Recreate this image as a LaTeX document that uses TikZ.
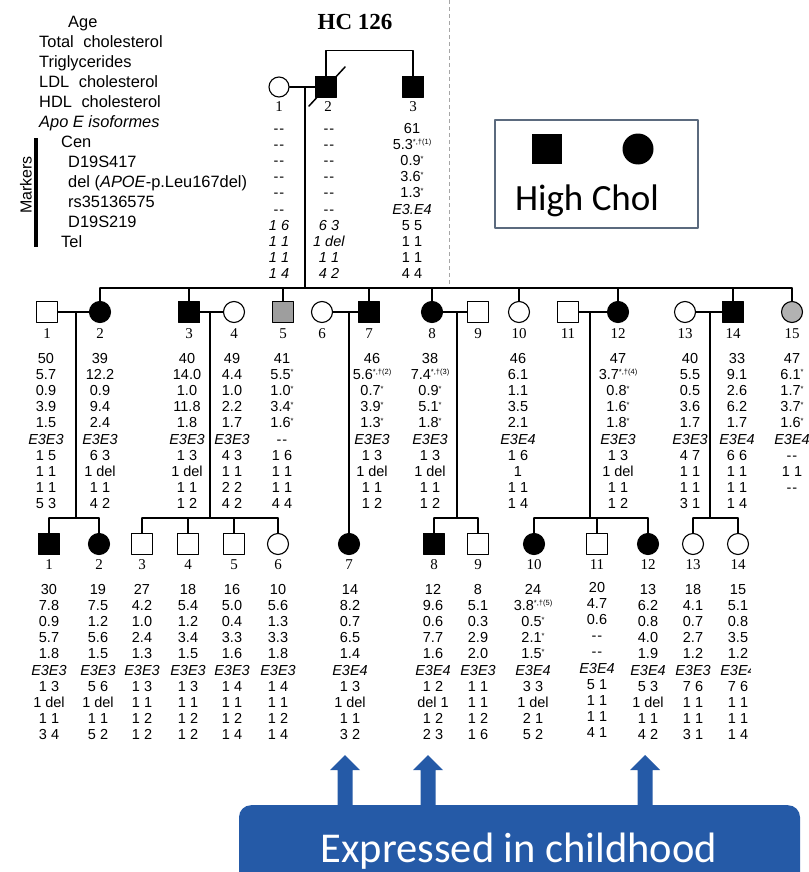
\documentclass[tikz,border=0pt]{standalone}
\usepackage{fontspec}
\setmainfont{Liberation Sans}
\newfontfamily\idfont{Liberation Serif}
\newfontfamily\calfont{Carlito}
\usetikzlibrary{calc}
\definecolor{boxblue}{HTML}{255AA7}
\definecolor{framegray}{HTML}{5B6A7E}
\newcommand\nd{-\kern1pt-}
\newcommand\supmark[1]{\raisebox{4.5pt}{\fontsize{7.5}{7.5}\selectfont #1}}
\newcommand\datacol[4]{%
  \foreach [count=\rw] \entry in {#4}
    \node[cell] (#1-\rw) at (#2,{#3+16.15*(\rw-1)}) {\entry};}
\begin{document}
\begin{tikzpicture}[x=1pt, y=-1pt, line join=round, line cap=round,
    kin/.style={line width=1.1pt},
    ped/.style={draw, line width=1.1pt, inner sep=0pt},
    male/.style={ped, rectangle, minimum size=21pt},
    female/.style={ped, circle, minimum size=21pt},
    maleA/.style={male, fill=black},
    femaleA/.style={female, fill=black},
    maleG/.style={male, fill=black!38},
    femaleG/.style={female, fill=black!30},
    idnum/.style={font=\idfont\fontsize{15}{15}\selectfont, inner sep=0pt},
    cell/.style={font=\fontsize{14.5}{15}\selectfont, inner sep=0pt, text height=10.5pt, text depth=0pt},
    rowname/.style={font=\fontsize{16.4}{17}\selectfont, anchor=base west, inner sep=0pt}]
  \useasboundingbox (0,0) rectangle (808,872);
  % junctions
  \coordinate (mI) at (305,87);
  \coordinate (sII) at (0,288);
  \coordinate (sIII) at (0,518);
  \coordinate (m12) at (76,312);
  \coordinate (m34) at (210,312);
  \coordinate (m67) at (349,312);
  \coordinate (m89) at (457,312);
  \coordinate (m1112) at (590,312);
  \coordinate (m1314) at (710,312);
  % row names
  \node[rowname] (nAge) at (68,28) {Age};
  \node[rowname] (nTC) at (39,48) {Total\hspace{5pt} cholesterol};
  \node[rowname] (nTG) at (39,68) {Triglycerides};
  \node[rowname] (nLDL) at (39,88) {LDL\hspace{5pt} cholesterol};
  \node[rowname] (nHDL) at (39,107) {HDL\hspace{5pt} cholesterol};
  \node[rowname] (nApo) at (39,128) {\textit{Apo E isoformes}};
  \node[rowname] (nCen) at (61,147) {Cen};
  \node[rowname] (nD417) at (68,167) {D19S417};
  \node[rowname] (nDel) at (68,187) {del (\textit{APOE}-p.Leu167del)};
  \node[rowname] (nRs) at (68,207) {rs35136575};
  \node[rowname] (nD219) at (68,227) {D19S219};
  \node[rowname] (nTel) at (61,247) {Tel};
  \node[rotate=90, font=\fontsize{16}{16}\selectfont, inner sep=0pt] (markers) at (26,185) {Markers};
  \draw[line width=4pt, line cap=butt] (36,138) -- (36,247);
  \node[font=\idfont\bfseries\fontsize{23}{23}\selectfont, anchor=base, inner sep=0pt] (title) at (355,30) {HC 126};
  \draw[black!35, line width=0.8pt, dash pattern=on 4pt off 3pt, line cap=butt] (449,0) -- (449,285);
  % generation I
  \node[female, minimum size=20pt] (I1) at (279,87) {};
  \node[maleA] (I2) at (326,87) {};
  \node[maleA] (I3) at (413,87) {};
  \node[idnum] (nI1) at (279,107) {1};
  \node[idnum] (nI2) at (328,107) {2};
  \node[idnum] (nI3) at (413,107) {3};
  \draw[kin] (I1.east) -- (I2.west);
  \draw[kin] (I2.north) -- ++(0,-25) -| (I3.north);
  \draw[kin] (mI) -- (mI |- sII);
  \draw[line width=1.5pt] (I2.center) ++(-17,19) -- ++(36,-39);
  % generation II
  \foreach \n/\x/\kind in {1/47/male, 2/100/femaleA, 3/189/maleA, 4/234/female,
      5/283/maleG, 6/322/female, 7/369/maleA, 8/432/femaleA, 9/478/male,
      10/519/female, 11/568/male, 12/618/femaleA, 13/685/female, 14/733/maleA, 15/792/femaleG}
  {
    \node[\kind] (II\n) at (\x,312) {};
    \node[idnum] (nII\n) at (\x,334) {\n};
  }
  \foreach \n in {2,3,5,7,8,10,12,14,15}
    \draw[kin] (II\n.north) -- (II\n.north |- sII);
  \draw[kin] (II2.north |- sII) -- (II15.north |- sII);
  \foreach \a/\b in {1/2,3/4,6/7,8/9,11/12,13/14}
    \draw[kin] (II\a.east) -- (II\b.west);
  % generation III
  \foreach \n/\x/\kind in {1/49/maleA, 2/99/femaleA, 3/142/male, 4/188/male,
      5/234/male, 6/278/female, 7/349/femaleA, 8/434/maleA, 9/478/male,
      10/534/femaleA, 11/597/male, 12/648/femaleA, 13/693/female, 14/738/female}
  {
    \node[\kind] (III\n) at (\x,544) {};
    \node[idnum] (nIII\n) at (\x,565) {\n};
  }
  \foreach \m in {m12,m34,m89,m1112,m1314}
    \draw[kin] (\m) -- (\m |- sIII);
  \draw[kin] (m67) -- (III7.north);
  \foreach \n in {1,2,3,4,5,6,8,9,10,11,12,13,14}
    \draw[kin] (III\n.north) -- (III\n.north |- sIII);
  \foreach \a/\b in {1/2,3/6,8/9,10/12,13/14}
    \draw[kin] (III\a.north |- sIII) -- (III\b.north |- sIII);
  % data, generation I
  \datacol{dI1}{279}{128}{\nd,\nd,\nd,\nd,\nd,\nd,\textit{1 6},\textit{1 1},\textit{1 1},\textit{1 4}}
  \datacol{dI2}{329}{128}{\nd,\nd,\nd,\nd,\nd,\nd,\textit{6 3},\textit{1 del},\textit{1 1},\textit{4 2}}
  \datacol{dI3}{412}{128}{61,5.3\supmark{*,†(1)},0.9\supmark{*},3.6\supmark{*},1.3\supmark{*},\textit{E3.E4},5 5,1 1,1 1,4 4}
  % data, generation II
  \datacol{dII1}{46}{358}{50,5.7,0.9,3.9,1.5,\textit{E3E3},1 5,1 1,1 1,5 3}
  \datacol{dII2}{100}{358}{39,12.2,0.9,9.4,2.4,\textit{E3E3},6 3,1 del,1 1,4 2}
  \datacol{dII3}{187}{358}{40,14.0,1.0,11.8,1.8,\textit{E3E3},1 3,1 del,1 1,1 2}
  \datacol{dII4}{232}{358}{49,4.4,1.0,2.2,1.7,\textit{E3E3},4 3,1 1,2 2,4 2}
  \datacol{dII5}{282}{358}{41,5.5\supmark{*},1.0\supmark{*},3.4\supmark{*},1.6\supmark{*},\nd,1 6,1 1,1 1,4 4}
  \datacol{dII7}{372}{358}{46,5.6\supmark{*,†(2)},0.7\supmark{*},3.9\supmark{*},1.3\supmark{*},\textit{E3E3},1 3,1 del,1 1,1 2}
  \datacol{dII8}{430}{358}{38,7.4\supmark{*,†(3)},0.9\supmark{*},5.1\supmark{*},1.8\supmark{*},\textit{E3E3},1 3,1 del,1 1,1 2}
  \datacol{dII10}{518}{358}{46,6.1,1.1,3.5,2.1,\textit{E3E4},1 6,1,1 1,1 4}
  \datacol{dII12}{618}{358}{47,3.7\supmark{*,†(4)},0.8\supmark{*},1.6\supmark{*},1.8\supmark{*},\textit{E3E3},1 3,1 del,1 1,1 2}
  \datacol{dII13}{690}{358}{40,5.5,0.5,3.6,1.7,\textit{E3E3},4 7,1 1,1 1,3 1}
  \datacol{dII14}{737}{358}{33,9.1,2.6,6.2,1.7,\textit{E3E4},6 6,1 1,1 1,1 4}
  \datacol{dII15}{792}{358}{47,6.1\supmark{*},1.7\supmark{*},3.7\supmark{*},1.6\supmark{*},\textit{E3E4},\nd,1 1,\nd}
  % data, generation III
  \begin{scope}
    \clip (0,570) rectangle (750,750);
    \datacol{dIII1}{49}{589}{30,7.8,0.9,5.7,1.8,\textit{E3E3},1 3,1 del,1 1,3 4}
    \datacol{dIII2}{98}{589}{19,7.5,1.2,5.6,1.5,\textit{E3E3},5 6,1 del,1 1,5 2}
    \datacol{dIII3}{142}{589}{27,4.2,1.0,2.4,1.3,\textit{E3E3},1 3,1 1,1 2,1 2}
    \datacol{dIII4}{188}{589}{18,5.4,1.2,3.4,1.5,\textit{E3E3},1 3,1 1,1 2,1 2}
    \datacol{dIII5}{232}{589}{16,5.0,0.4,3.3,1.6,\textit{E3E3},1 4,1 1,1 2,1 4}
    \datacol{dIII6}{278}{589}{10,5.6,1.3,3.3,1.8,\textit{E3E3},1 4,1 1,1 2,1 4}
    \datacol{dIII7}{350}{589}{14,8.2,0.7,6.5,1.4,\textit{E3E4},1 3,1 del,1 1,3 2}
    \datacol{dIII8}{433}{589}{12,9.6,0.6,7.7,1.6,\textit{E3E4},1 2,del 1,1 2,2 3}
    \datacol{dIII9}{478}{589}{8,5.1,0.3,2.9,2.0,\textit{E3E3},1 1,1 1,1 2,1 6}
    \datacol{dIII10}{533}{589}{24,3.8\supmark{*,†(5)},0.5\supmark{*},2.1\supmark{*},1.5\supmark{*},\textit{E3E4},3 3,1 del,2 1,5 2}
    \datacol{dIII11}{597}{587}{20,4.7,0.6,\nd,\nd,\textit{E3E4},5 1,1 1,1 1,4 1}
    \datacol{dIII12}{648}{589}{13,6.2,0.8,4.0,1.9,\textit{E3E4},5 3,1 del,1 1,4 2}
    \datacol{dIII13}{693}{589}{18,4.1,0.7,2.7,1.2,\textit{E3E3},7 6,1 1,1 1,3 1}
    \datacol{dIII14}{738}{589}{15,5.1,0.8,3.5,1.2,\textit{E3E4},7 6,1 1,1 1,1 4}
  \end{scope}
  % legend
  \node[draw=framegray, line width=1.2pt, minimum width=203pt, minimum height=108pt, inner sep=0pt] (legend) at (596.5,174) {};
  \node[fill=black, minimum size=30pt, inner sep=0pt] (legsq) at (547,149) {};
  \node[circle, fill=black, minimum size=31pt, inner sep=0pt] (legci) at (638,149) {};
  \node[font=\calfont\fontsize{37}{37}\selectfont, anchor=base, inner sep=0pt] (legtext) at (587,210) {High Chol};
  % childhood box and arrows
  \node[fill=boxblue, rounded corners=12pt, minimum width=561pt, minimum height=90pt, inner sep=0pt, anchor=north] (childbox) at (519.5,805) {};
  \node[font=\calfont\fontsize{42.5}{42.5}\selectfont, text=white, anchor=base, inner sep=0pt] (childtext) at (519,862) {Expressed in childhood};
  \foreach \x in {345,428,645}
    \fill[boxblue] (\x-7.5,806) -- (\x-7.5,770) -- (\x-15,770) -- (\x,755) -- (\x+15,770) -- (\x+7.5,770) -- (\x+7.5,806) -- cycle;
\end{tikzpicture}
\end{document}
